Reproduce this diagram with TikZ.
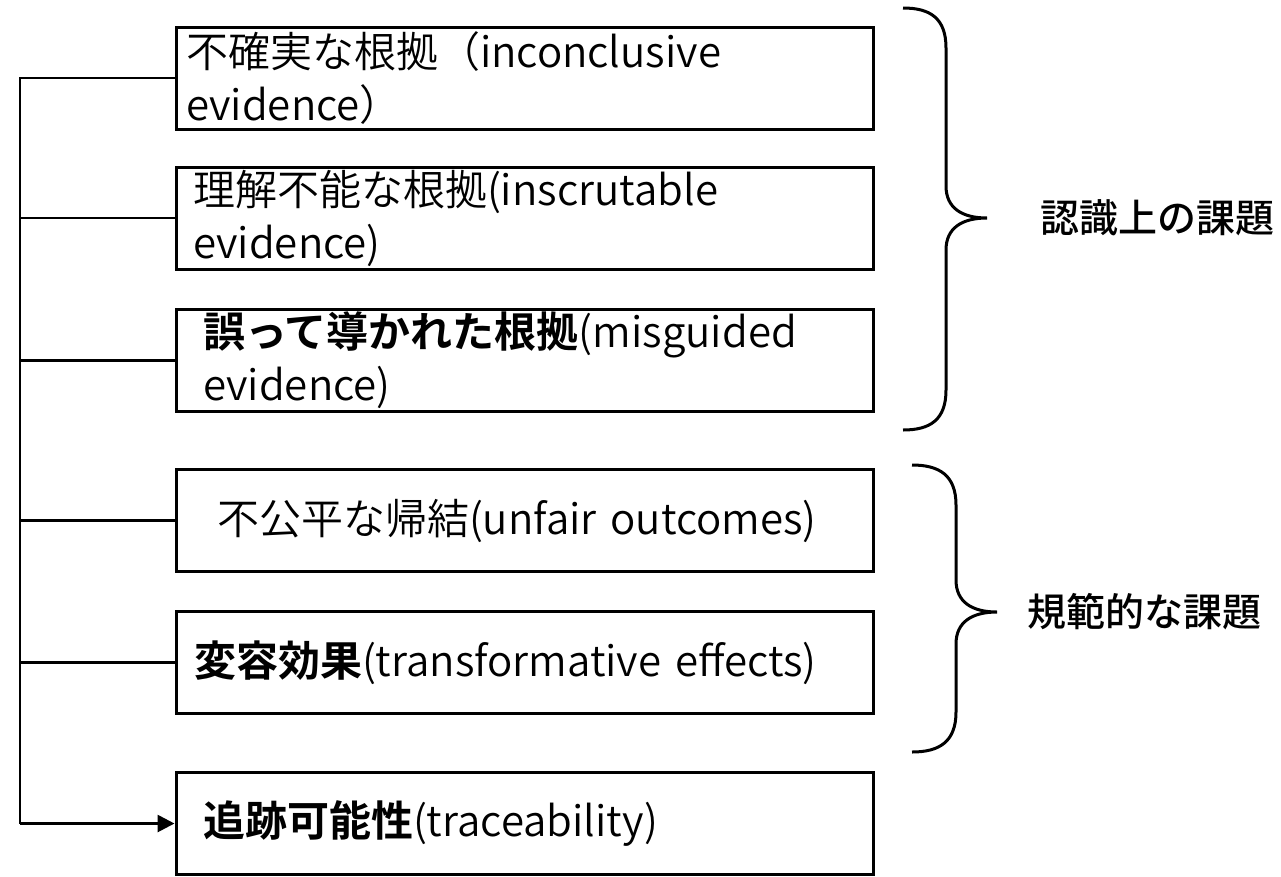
\documentclass[tikz,border=0pt]{standalone}
\usepackage{fontspec}
\setmainfont{Noto Sans CJK JP DemiLight}[BoldFont={Noto Sans CJK JP Bold}]
\newfontfamily\medf{Noto Sans CJK JP Medium}
\usetikzlibrary{arrows.meta}
\tikzset{
  box/.style={draw, line width=3pt, minimum height=102pt, inner ysep=0pt,
    align=left, font=\fontsize{42}{53}\selectfont},
  conn/.style={line width=2.8pt},
  bracepath/.style={line width=3pt},
  lab/.style={anchor=west, font=\fontsize{39}{45}\selectfont\medf},
}
\begin{document}
\begin{tikzpicture}[x=1pt,y=1pt]
\useasboundingbox (0,0) rectangle (1281,-876);
% boxes: left 176, right 873
\node[box, inner xsep=10pt, text width=677pt] (b1) at (524.5,-78) {不確実な根拠（inconclusive\\evidence）};
\node[box, inner xsep=17pt, text width=663pt] (b2) at (524.5,-218) {理解不能な根拠(inscrutable\\evidence)};
\node[box, inner xsep=27pt, text width=643pt] (b3) at (524.5,-360.5) {\textbf{誤って導かれた根拠}(misguided\\evidence)};
\node[box, inner xsep=41pt, text width=615pt] (b4) at (524.5,-520.5) {不公平な帰結(unfair outcomes)};
\node[box, inner xsep=18pt, text width=661pt] (b5) at (524.5,-662.5) {\textbf{変容効果}(transformative effects)};
\node[box, inner xsep=27pt, text width=643pt] (b6) at (524.5,-823.5) {\textbf{追跡可能性}(traceability)};
% trunk
\coordinate (trunk) at (20,0);
\draw[conn] (b1.west) -- (b1.west -| trunk) -- (b6.west -| trunk);
\foreach \b in {b2,b3,b4,b5} \draw[conn] (\b.west -| trunk) -- (\b.west);
\draw[conn, -{Triangle[length=17pt,width=17pt]}] (b6.west -| trunk) -- (b6.west);
% braces
\draw[bracepath] (903,-8) .. controls (930,-8) and (946,-18) .. (946,-48) -- (946,-186)
  .. controls (946,-208) and (962,-218) .. (987,-218)
  .. controls (962,-218) and (946,-228) .. (946,-250) -- (946,-390)
  .. controls (946,-420) and (930,-430) .. (903,-430);
\draw[bracepath] (912,-465) .. controls (939,-465) and (956,-475) .. (956,-505) -- (956,-580)
  .. controls (956,-602) and (972,-612) .. (997,-612)
  .. controls (972,-612) and (956,-622) .. (956,-644) -- (956,-712)
  .. controls (956,-742) and (939,-752) .. (912,-752);
\node[lab] (l1) at (1037,-218) {認識上の課題};
\node[lab] (l2) at (1024,-612) {規範的な課題};
\end{tikzpicture}
\end{document}
